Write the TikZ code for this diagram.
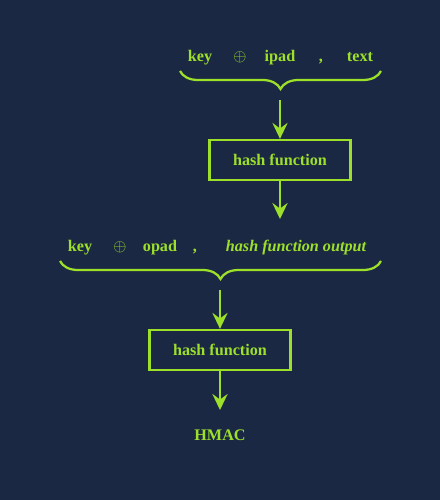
\documentclass[tikz,border=0pt]{standalone}
\usepackage{fontspec}
\setmainfont{Liberation Serif}
\usetikzlibrary{arrows.meta,positioning,decorations.pathreplacing}
\definecolor{bgcol}{HTML}{1B2843}
\definecolor{fgcol}{HTML}{9CE02A}

\begin{document}
\begin{tikzpicture}[x=0.025cm, y=-0.025cm,
  term/.style={text=fgcol, font=\fontsize{11.5}{13}\selectfont\bfseries, inner sep=0pt, anchor=base},
  hbox/.style={draw=fgcol, line width=1.6pt, minimum width=3.525cm, minimum height=1cm,
    text=fgcol, font=\fontsize{11.5}{13}\selectfont\bfseries},
  flow/.style={-{Stealth[length=4mm, width=3.8mm, inset=1.4mm]}, draw=fgcol, line width=1.6pt},
  brc/.style={decorate, decoration={brace, mirror, amplitude=4.5mm}, draw=fgcol, line width=1.6pt}
]
  \fill[bgcol] (0,0) rectangle (440,500);
  \useasboundingbox (0,0) rectangle (440,500);

  % inner input
  \node[term] (k1) at (200,61.5) {key};
  \node[term] (x1) at (240,61.5) {$\oplus$};
  \node[term] (ip) at (280,61.5) {ipad};
  \node[term] (c1) at (321,61.5) {,};
  \node[term] (tx) at (360,61.5) {text};
  \coordinate (b1l) at (180,71);
  \coordinate (b1r) at (381,71);
  \draw[brc] (b1l) -- (b1r);

  % inner hash
  \coordinate (s1) at (280,100);
  \node[hbox] (h1) at (280,160) {hash function};
  \coordinate (e1) at (280,219);
  \draw[flow] (s1) -- (h1);
  \draw[flow] (h1) -- (e1);

  % outer input
  \node[term] (k2) at (80,251.5) {key};
  \node[term] (x2) at (120,251.5) {$\oplus$};
  \node[term] (op) at (160,251.5) {opad};
  \node[term] (c2) at (195,251.5) {,};
  \node[term, font=\fontsize{11.5}{13}\selectfont\bfseries\itshape] (ho) at (296,251.5) {hash function output};
  \coordinate (b2l) at (60,261);
  \coordinate (b2r) at (381,261);
  \draw[brc] (b2l) -- (b2r);

  % outer hash
  \coordinate (s2) at (220,290);
  \node[hbox] (h2) at (220,350) {hash function};
  \coordinate (e2) at (220,410);
  \draw[flow] (s2) -- (h2);
  \draw[flow] (h2) -- (e2);

  \node[term] (mac) at (220,440.5) {HMAC};
\end{tikzpicture}
\end{document}
